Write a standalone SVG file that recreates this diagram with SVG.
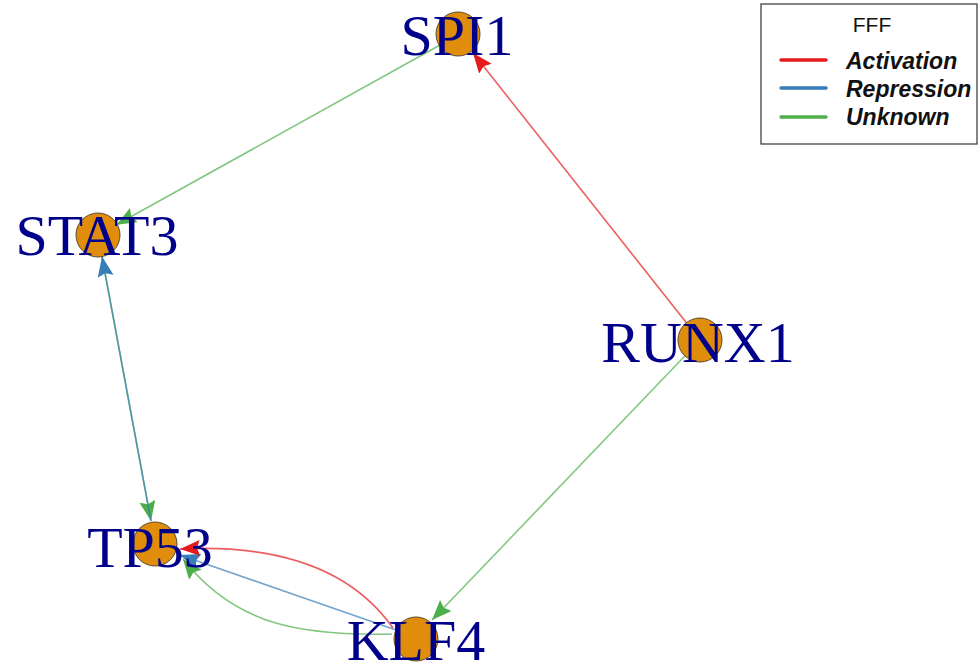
<svg xmlns="http://www.w3.org/2000/svg" width="978" height="666" viewBox="0 0 978 666">
<style>
.e{fill:none;stroke-width:1.6;stroke-opacity:0.7}
.act{stroke:#E41A1C}
.rep{stroke:#377EB8}
.unk{stroke:#4DAF4A}
.n circle{fill:#E08D0B;stroke:#5a4a30;stroke-width:1}
.n text{font-family:"Liberation Serif","Times New Roman",serif;font-size:58px;fill:#00008B;text-anchor:middle}
.lg{font-family:"Liberation Sans",Arial,sans-serif;font-size:23px;font-weight:bold;font-style:italic;fill:#111}
</style>
<defs>
<marker id="aR" markerUnits="userSpaceOnUse" markerWidth="22" markerHeight="18" refX="20" refY="8" orient="auto"><path d="M0,0 L20,8 L0,16 L3,8 z" fill="#E41A1C"/></marker>
<marker id="aB" markerUnits="userSpaceOnUse" markerWidth="22" markerHeight="18" refX="20" refY="8" orient="auto"><path d="M0,0 L20,8 L0,16 L3,8 z" fill="#377EB8"/></marker>
<marker id="aG" markerUnits="userSpaceOnUse" markerWidth="22" markerHeight="18" refX="20" refY="8" orient="auto"><path d="M0,0 L20,8 L0,16 L3,8 z" fill="#4DAF4A"/></marker>
</defs>
<rect width="978" height="666" fill="#fff"/>
<g id="edges">
<path class="e unk" d="M439.6,45.2 L116.4,224.8" marker-end="url(#aG)"/>
<path class="e act" d="M686.4,322.7 L473,53" marker-end="url(#aR)"/>
<path class="e unk" d="M684.8,356 L432,620" marker-end="url(#aG)"/>
<path class="e unk" d="M102,256.6 L151,521" marker-end="url(#aG)"/>
<path class="e rep" d="M151,521 L102,256.6" marker-end="url(#aB)"/>
<path class="e unk" d="M392,634 C300,636 235,625 183,559" marker-end="url(#aG)"/>
<path class="e rep" d="M396,630 L180,555" marker-end="url(#aB)"/>
<path class="e act" d="M393,628 C345,560 260,545 180,549" marker-end="url(#aR)"/>
</g>
<g id="SPI1" class="n"><circle cx="458" cy="34" r="22"/><text x="457" y="55">SPI1</text></g>
<g id="STAT3" class="n"><circle cx="98" cy="235" r="22"/><text x="97" y="255">STAT3</text></g>
<g id="RUNX1" class="n"><circle cx="700" cy="340" r="22"/><text x="698" y="362">RUNX1</text></g>
<g id="TP53" class="n"><circle cx="155" cy="544" r="22"/><text x="150" y="567">TP53</text></g>
<g id="KLF4" class="n"><circle cx="416" cy="639" r="22"/><text x="416" y="660">KLF4</text></g>
<g id="legend">
<rect x="761" y="4" width="216" height="140" fill="#fff" stroke="#333" stroke-width="1.2"/>
<text x="872" y="32" font-family="'Liberation Sans',Arial,sans-serif" font-size="21" text-anchor="middle" fill="#111">FFF</text>
<line x1="781" y1="60" x2="826" y2="60" stroke="#E41A1C" stroke-width="3.5" stroke-linecap="round"/>
<line x1="781" y1="88" x2="826" y2="88" stroke="#377EB8" stroke-width="3.5" stroke-linecap="round"/>
<line x1="781" y1="117" x2="826" y2="117" stroke="#4DAF4A" stroke-width="3.5" stroke-linecap="round"/>
<text class="lg" x="846" y="69">Activation</text>
<text class="lg" x="846" y="97">Repression</text>
<text class="lg" x="846" y="125">Unknown</text>
</g>
</svg>
